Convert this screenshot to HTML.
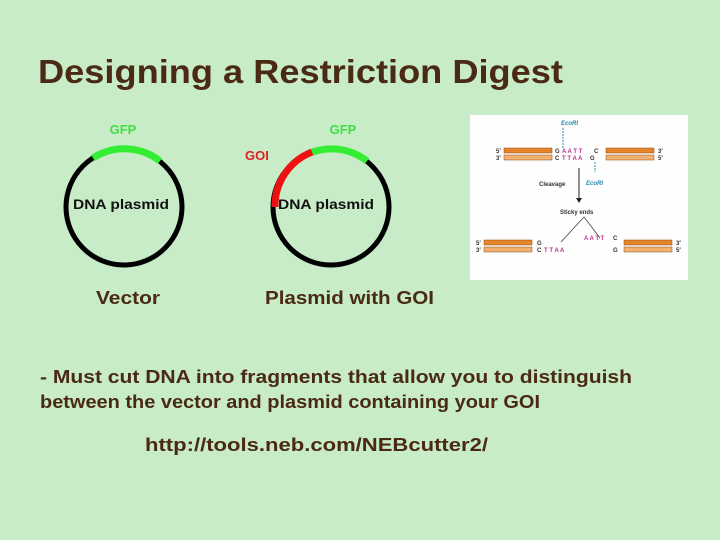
<!DOCTYPE html>
<html><head><style>
html,body{margin:0;padding:0;background:#c8ecc8;}
svg{display:block;}
text{font-family:"Liberation Sans",sans-serif;font-weight:bold;}
</style></head><body>
<svg width="720" height="540" viewBox="0 0 720 540" xmlns="http://www.w3.org/2000/svg">
<rect width="720" height="540" fill="#c8ecc8"/>
<text x="38" y="83" font-size="33" fill="#4a2a14" textLength="525" lengthAdjust="spacingAndGlyphs">Designing  a Restriction Digest</text>

<!-- plasmid 1 -->
<circle cx="124" cy="207" r="58" fill="none" stroke="#000" stroke-width="5"/>
<path d="M93,158 A58,58 0 0 1 160,161" fill="none" stroke="#33ee33" stroke-width="7"/>
<text x="123" y="134" font-size="13" fill="#44dd44" text-anchor="middle">GFP</text>
<text x="73" y="209" font-size="14" fill="#111" textLength="96" lengthAdjust="spacingAndGlyphs">DNA plasmid</text>
<text x="96" y="304" font-size="18" fill="#4a2a14" textLength="64" lengthAdjust="spacingAndGlyphs">Vector</text>

<!-- plasmid 2 -->
<circle cx="331" cy="207" r="58" fill="none" stroke="#000" stroke-width="5"/>
<path d="M310,153 A58,58 0 0 1 367,161" fill="none" stroke="#33ee33" stroke-width="7"/>
<path d="M275,207 A58,58 0 0 1 312,152" fill="none" stroke="#ee1111" stroke-width="7"/>
<text x="343" y="134" font-size="13" fill="#44dd44" text-anchor="middle">GFP</text>
<text x="245" y="160" font-size="13" fill="#e02020">GOI</text>
<text x="278" y="209" font-size="14" fill="#111" textLength="96" lengthAdjust="spacingAndGlyphs">DNA plasmid</text>
<text x="265" y="304" font-size="18" fill="#4a2a14" textLength="169" lengthAdjust="spacingAndGlyphs">Plasmid with GOI</text>

<!-- EcoRI figure -->
<rect x="470" y="115" width="218" height="165" fill="#fdfefd"/>
<g font-family="Liberation Sans" font-weight="normal">
<text x="561" y="125" font-size="6" fill="#2a8ab0" font-style="italic" font-weight="normal">EcoRI</text>
<line x1="563" y1="128" x2="563" y2="148" stroke="#2a8ab0" stroke-dasharray="2,1"/>
<text x="496" y="153" font-size="6" fill="#333" font-weight="normal">5′</text>
<text x="496" y="160" font-size="6" fill="#333" font-weight="normal">3′</text>
<rect x="504" y="148" width="48" height="5" fill="#e8852a" stroke="#8a4a10" stroke-width="0.5"/>
<rect x="504" y="155" width="48" height="5" fill="#f2b070" stroke="#8a4a10" stroke-width="0.5"/>
<text x="555" y="153" font-size="6" fill="#333" font-weight="normal">G</text>
<text x="562" y="153" font-size="6" fill="#c0308a" font-weight="normal">A A T T</text>
<text x="594" y="153" font-size="6" fill="#333" font-weight="normal">C</text>
<text x="555" y="160" font-size="6" fill="#333" font-weight="normal">C</text>
<text x="562" y="160" font-size="6" fill="#c0308a" font-weight="normal">T T A A</text>
<text x="590" y="160" font-size="6" fill="#333" font-weight="normal">G</text>
<rect x="606" y="148" width="48" height="5" fill="#e8852a" stroke="#8a4a10" stroke-width="0.5"/>
<rect x="606" y="155" width="48" height="5" fill="#f2b070" stroke="#8a4a10" stroke-width="0.5"/>
<text x="658" y="153" font-size="6" fill="#333" font-weight="normal">3′</text>
<text x="658" y="160" font-size="6" fill="#333" font-weight="normal">5′</text>
<line x1="595" y1="162" x2="595" y2="172" stroke="#2a8ab0" stroke-dasharray="2,1"/>
<text x="586" y="185" font-size="6" fill="#2a8ab0" font-style="italic" font-weight="normal">EcoRI</text>
<line x1="579" y1="168" x2="579" y2="200" stroke="#222"/>
<path d="M576,198 L582,198 L579,203 Z" fill="#222"/>
<text x="539" y="186" font-size="6" fill="#333" font-weight="normal">Cleavage</text>
<text x="560" y="214" font-size="6" fill="#333" font-weight="normal">Sticky ends</text>
<path d="M561,242 L584,217 L600,238" fill="none" stroke="#333" stroke-width="0.7"/>
<text x="476" y="245" font-size="6" fill="#333" font-weight="normal">5′</text>
<text x="476" y="252" font-size="6" fill="#333" font-weight="normal">3′</text>
<rect x="484" y="240" width="48" height="5" fill="#e8852a" stroke="#8a4a10" stroke-width="0.5"/>
<rect x="484" y="247" width="48" height="5" fill="#f2b070" stroke="#8a4a10" stroke-width="0.5"/>
<text x="537" y="245" font-size="6" fill="#333" font-weight="normal">G</text>
<text x="537" y="252" font-size="6" fill="#333" font-weight="normal">C</text>
<text x="544" y="252" font-size="6" fill="#c0308a" font-weight="normal">T T A A</text>
<text x="584" y="240" font-size="6" fill="#c0308a" font-weight="normal">A A T T</text>
<text x="613" y="240" font-size="6" fill="#333" font-weight="normal">C</text>
<text x="613" y="252" font-size="6" fill="#333" font-weight="normal">G</text>
<rect x="624" y="240" width="48" height="5" fill="#e8852a" stroke="#8a4a10" stroke-width="0.5"/>
<rect x="624" y="247" width="48" height="5" fill="#f2b070" stroke="#8a4a10" stroke-width="0.5"/>
<text x="676" y="245" font-size="6" fill="#333" font-weight="normal">3′</text>
<text x="676" y="252" font-size="6" fill="#333" font-weight="normal">5′</text>
</g>

<text x="40" y="383" font-size="18" fill="#4a2a14" textLength="592" lengthAdjust="spacingAndGlyphs">- Must cut DNA into fragments that allow you to distinguish</text>
<text x="40" y="408" font-size="18" fill="#4a2a14" textLength="500" lengthAdjust="spacingAndGlyphs">between the vector and plasmid containing  your GOI</text>
<text x="145" y="451" font-size="18" fill="#4a2a14" textLength="343" lengthAdjust="spacingAndGlyphs">http://tools.neb.com/NEBcutter2/</text>
</svg>
</body></html>
